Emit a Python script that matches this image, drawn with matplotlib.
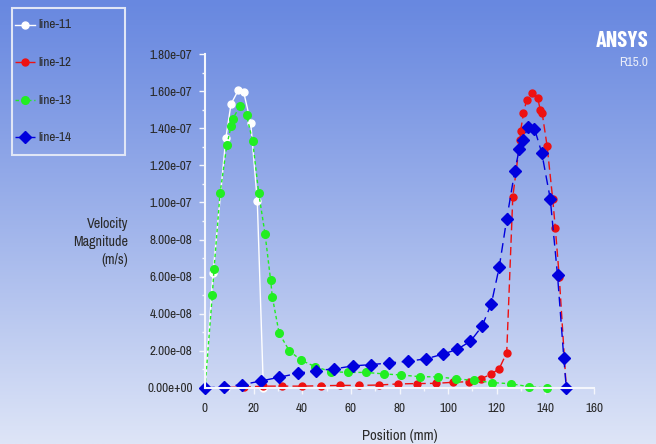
import matplotlib
matplotlib.use("Agg")
import matplotlib.pyplot as plt
import numpy as np
from matplotlib.lines import Line2D
from matplotlib.patches import Rectangle

plt.rcParams['font.family'] = ['Archivo Narrow', 'DejaVu Sans']
plt.rcParams['font.stretch'] = 'condensed'

# data (velocity in units of 1e-8 m/s)
pos11 = [0, 3.3, 8.6, 10.7, 13.7, 15.9, 18.8, 21.5, 24.0]
vel11 = [0, 6.2, 13.5, 15.3, 16.05, 15.95, 14.3, 10.1, 0]

pos12 = [0, 8.1, 16.2, 24.0, 31.8, 39.8, 47.7, 55.7, 63.5, 71.5, 79.3, 87.4, 94.9,
         102.2, 108.4, 113.6, 117.6, 121.0, 124.1, 126.6, 129.6, 129.8, 131.0, 132.3,
         134.7, 136.8, 137.9, 138.7, 140.7, 143.0, 144.1, 145.7, 148.6]
vel12 = [0, 0.03, 0.05, 0.1, 0.1, 0.1, 0.12, 0.14, 0.14, 0.16, 0.22, 0.24, 0.25,
         0.31, 0.34, 0.5, 0.74, 1.04, 1.9, 10.3, 13.37, 13.86, 14.8, 15.53,
         15.9, 15.64, 15.0, 14.8, 13.05, 10.2, 8.6, 6.0, 0]

pos13 = [0, 3.0, 3.7, 6.2, 9.0, 10.7, 11.4, 14.4, 17.1, 19.6, 22.1, 24.7, 27.0, 27.7,
         30.5, 34.7, 39.5, 45.3, 51.9, 59.0, 66.1, 73.5, 80.8, 88.3, 95.9, 103.4,
         110.7, 118.2, 125.8, 133.3, 140.7]
vel13 = [0, 5.0, 6.4, 10.5, 13.1, 14.1, 14.5, 15.2, 14.7, 13.3, 10.5, 8.3, 5.8, 4.9,
         2.95, 2.0, 1.5, 1.15, 0.88, 0.84, 0.84, 0.76, 0.70, 0.61, 0.60, 0.49,
         0.41, 0.29, 0.23, 0.07, 0.0]

pos14 = [0, 7.8, 15.4, 23.0, 30.6, 38.1, 45.7, 53.2, 60.8, 68.2, 75.8, 83.3, 90.8,
         97.8, 103.8, 109.2, 113.9, 117.8, 121.0, 124.1, 127.4, 129.3, 130.9, 132.8,
         135.5, 138.5, 142.0, 145.0, 147.6, 148.6]
vel14 = [0, 0.07, 0.18, 0.38, 0.58, 0.79, 0.94, 1.03, 1.19, 1.26, 1.35, 1.44, 1.57,
         1.82, 2.09, 2.52, 3.32, 4.55, 6.5, 9.1, 11.68, 12.9, 13.39, 14.04,
         13.98, 12.68, 10.2, 6.07, 1.59, 0]

labels = ['line-11', 'line-12', 'line-13', 'line-14']

fig = plt.figure(figsize=(6.56, 4.44), dpi=100)

# gradient background, blue at the top fading to pale lavender
bg = fig.add_axes([0, 0, 1, 1], zorder=-10)
top = np.array([104, 136, 224]) / 255
bot = np.array([222, 229, 247]) / 255
t = np.linspace(0, 1, 256)[:, None] ** 1.1
grad = top[None, :] * (1 - t) + bot[None, :] * t
bg.imshow(grad[:, None, :], aspect='auto', extent=[0, 1, 0, 1])
bg.axis('off')

ax = fig.add_axes([205 / 656, 1 - 388 / 444, 389 / 656, 334 / 444])
ax.patch.set_alpha(0)

styles = [
    dict(color='white', ls='-', marker='o', ms=5),
    dict(color='#ee1111', ls=(0, (6, 3)), marker='o', ms=5),
    dict(color='#22ee22', ls=(0, (2.5, 2)), marker='o', ms=5.5),
    dict(color='#0000dd', ls=(0, (7, 4)), marker='D', ms=6),
]
series = [(pos11, vel11), (pos12, vel12), (pos13, vel13), (pos14, vel14)]
for (x, y), st, lab in zip(series, styles, labels):
    ax.plot(x, np.array(y) * 1e-8, lw=1, mec=st['color'], clip_on=False,
            label=lab, **st)

ax.set_xlim(0, 160)
ax.set_ylim(0, 1.8e-7)
ax.set_xticks(np.arange(0, 161, 20))
ax.set_xticks(np.arange(0, 161, 10), minor=True)
ax.set_yticks(np.arange(0, 1.81e-7, 2e-8))
ax.set_yticks(np.arange(0, 1.81e-7, 1e-8), minor=True)
ax.set_yticklabels([f"{v:.2e}" for v in np.arange(0, 1.81e-7, 2e-8)])
for s in ['top', 'right']:
    ax.spines[s].set_visible(False)
for s in ['left', 'bottom']:
    ax.spines[s].set_color('#f4f6fc')
    ax.spines[s].set_linewidth(1.5)
ax.tick_params(colors='#f4f6fc', labelcolor='#2a2a2a', labelsize=9.5, length=4, width=1)
ax.tick_params(which='minor', colors='#f4f6fc', length=2.5, width=1)
ax.tick_params(axis='y', pad=5)
ax.tick_params(axis='x', pad=7)

fig.text(128 / 656, 1 - 242 / 444, "Velocity\nMagnitude\n(m/s)", ha='right',
         va='center', multialignment='right', fontsize=10.2, color='#2a2a2a',
         linespacing=1.4)
fig.text(400 / 656, 1 - 436 / 444, "Position (mm)", ha='center', va='center',
         fontsize=10.5, color='#2a2a2a')

# ANSYS logo
fig.text(648 / 656, 1 - 41 / 444, "ANSYS", ha='right', va='center', fontsize=16,
         fontweight='bold', color='white',
         family=['Barlow Condensed', 'Archivo Narrow', 'DejaVu Sans'])
fig.text(648 / 656, 1 - 62 / 444, "R15.0", ha='right', va='center', fontsize=9.5,
         color='#e8ecf8')

# legend box
fig.patches.append(Rectangle((12 / 656, 1 - 155 / 444), 113 / 656, 147 / 444,
                             transform=fig.transFigure, fill=False,
                             edgecolor='#e0e6f6', lw=1.5))
for i, (st, lab) in enumerate(zip(styles, labels)):
    yy = 1 - (25 + i * 37.5) / 444
    fig.lines.append(Line2D([15 / 656, 35 / 656], [yy, yy], color=st['color'],
                            ls=st['ls'], lw=1, transform=fig.transFigure))
    fig.lines.append(Line2D([25 / 656], [yy], color=st['color'], marker=st['marker'],
                            ms=st['ms'], ls='none', transform=fig.transFigure))
    fig.text(38 / 656, yy, lab, ha='left', va='center', fontsize=9.5, color='#2a2a2a')

fig.savefig('out.png', dpi=100)
